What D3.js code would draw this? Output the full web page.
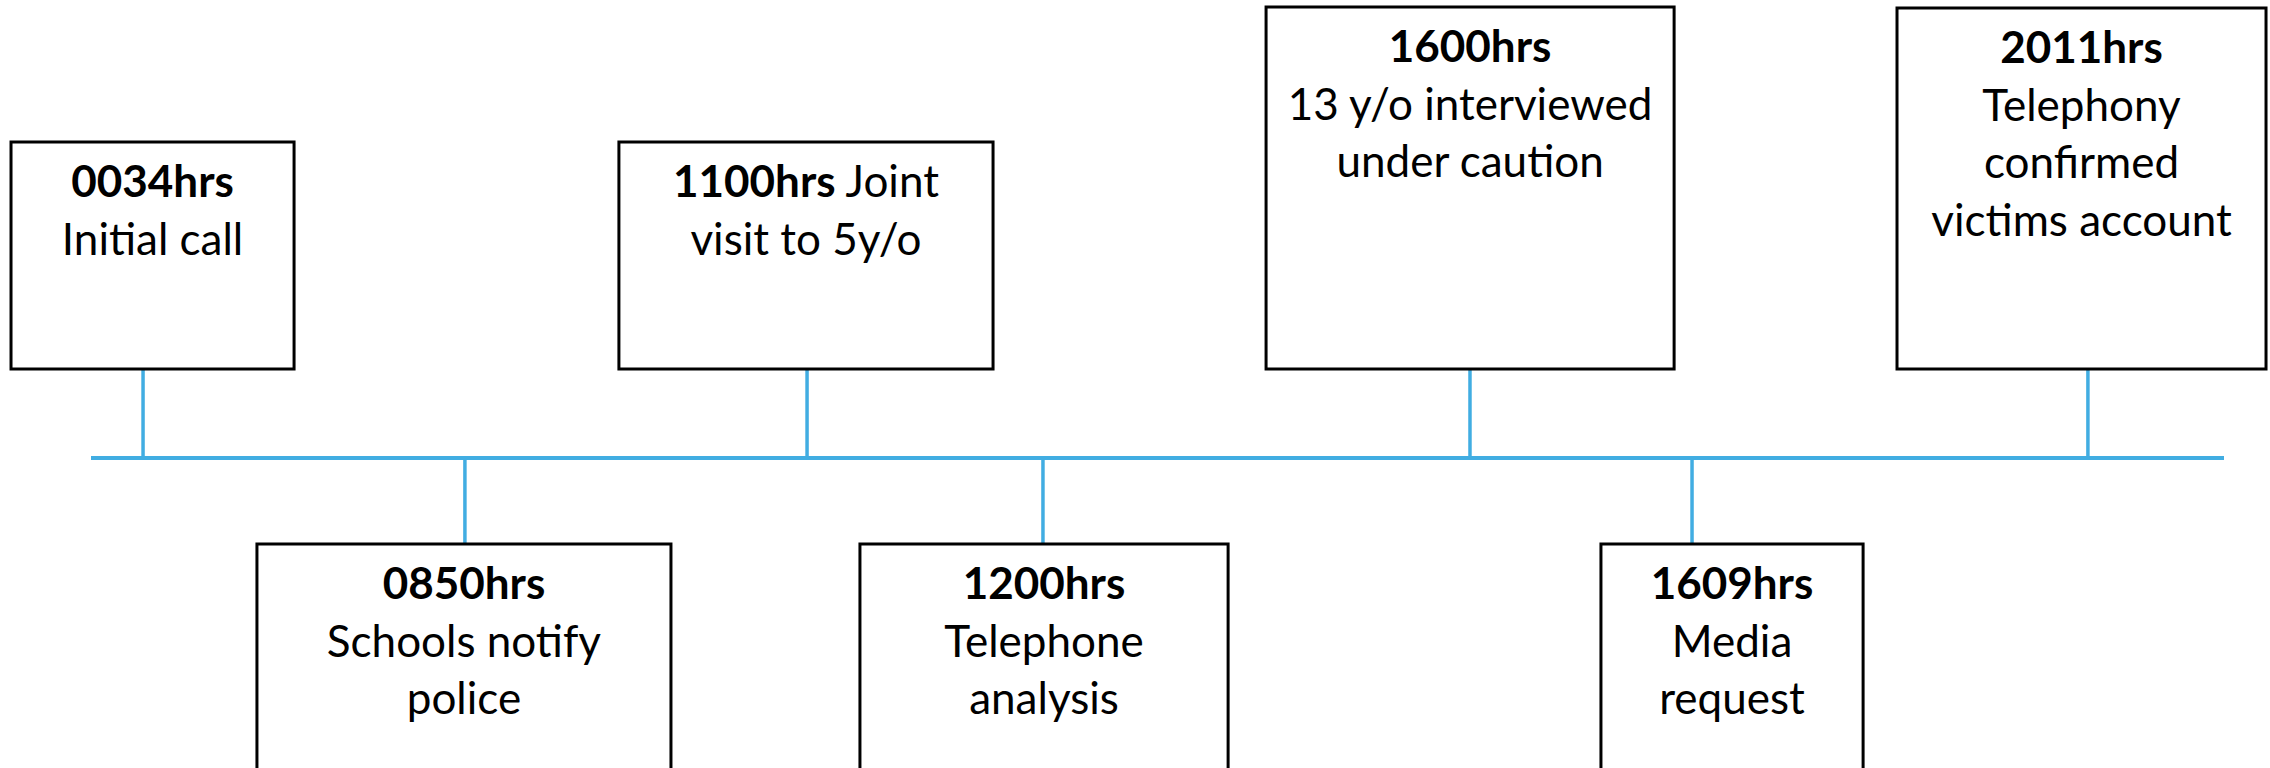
<!DOCTYPE html>
<html>
<head>
<meta charset="utf-8">
<script src="https://cdn.jsdelivr.net/npm/d3@7"></script>
<style>
  html, body { margin: 0; padding: 0; background: #ffffff; }
  svg { display: block; }
</style>
</head>
<body>
<div id="chart"></div>
<script>
// ---- data ----
const times = ["0034hrs", "0850hrs", "1100hrs", "1200hrs", "1600hrs", "1609hrs", "2011hrs"];
const labels = [
  ["Initial call"],
  ["Schools notify", "police"],
  ["Joint", "visit to 5y/o"],
  ["Telephone", "analysis"],
  ["13 y/o interviewed", "under caution"],
  ["Media", "request"],
  ["Telephony", "confirmed", "victims account"]
];
const sides = ["above", "below", "above", "below", "above", "below", "above"];
const inlineFirst = [false, false, true, false, false, false, false];

// ---- layout (timeline units: 0..100 along the blue line) ----
const anchorPos = [2.44, 17.53, 33.57, 44.63, 64.65, 75.06, 93.62];
const boxLeft   = [-3.75, 7.78, 24.75, 36.05, 55.09, 70.79, 84.67];
const boxRight  = [9.52, 27.19, 42.29, 53.31, 74.22, 83.08, 101.97];
// distance from line to far edge of box (pixels, vertical layout)
const boxFar    = [316, 340, 316, 340, 451, 340, 450];

const W = 2270, H = 768;
const lineY = 458;
const nearGap = 89;      // line to near edge of box
const blue = "#41ADE2";
const fontSize = 44;
const lineStep = 57.5;
const firstBase = 55;

const x = d3.scaleLinear().domain([0, 100]).range([91, 2224]);

const events = times.map((t, i) => ({
  time: t, lines: labels[i], side: sides[i], inline: inlineFirst[i],
  pos: anchorPos[i], l: boxLeft[i], r: boxRight[i], far: boxFar[i]
}));

const svg = d3.select("#chart").append("svg")
  .attr("width", W).attr("height", H)
  .style("font-family", "Lato, 'Open Sans', sans-serif");

// connectors
svg.append("g").selectAll("line").data(events).join("line")
  .attr("x1", d => x(d.pos)).attr("x2", d => x(d.pos))
  .attr("y1", lineY)
  .attr("y2", d => d.side === "above" ? lineY - nearGap : lineY + nearGap - 3)
  .attr("stroke", blue).attr("stroke-width", 3.5);

// main line
svg.append("line")
  .attr("x1", x(0)).attr("x2", x(100))
  .attr("y1", lineY).attr("y2", lineY)
  .attr("stroke", blue).attr("stroke-width", 4);

// boxes
const g = svg.append("g").selectAll("g").data(events).join("g");

g.append("rect")
  .attr("x", d => x(d.l))
  .attr("y", d => d.side === "above" ? lineY - d.far : lineY + nearGap - 3)
  .attr("width", d => x(d.r) - x(d.l))
  .attr("height", d => d.side === "above" ? d.far - nearGap : d.far)
  .attr("fill", "#ffffff").attr("stroke", "#000000").attr("stroke-width", 3);

g.each(function(d) {
  const cx = (x(d.l) + x(d.r)) / 2;
  const top = d.side === "above" ? lineY - d.far : lineY + nearGap - 3;
  const t = d3.select(this).append("text")
    .attr("text-anchor", "middle")
    .attr("font-size", fontSize)
    .attr("fill", "#000000");
  const rows = [];
  if (d.inline) {
    rows.push([{ s: d.time, b: true }, { s: " " + d.lines[0], b: false }]);
    d.lines.slice(1).forEach(s => rows.push([{ s, b: false }]));
  } else {
    rows.push([{ s: d.time, b: true }]);
    d.lines.forEach(s => rows.push([{ s, b: false }]));
  }
  rows.forEach((row, ri) => {
    row.forEach((seg, si) => {
      const ts = t.append("tspan")
        .attr("font-weight", seg.b ? 700 : 400)
        .text(seg.s);
      if (si === 0) ts.attr("x", cx).attr("y", top + firstBase + ri * lineStep);
    });
  });
});
</script>
</body>
</html>
